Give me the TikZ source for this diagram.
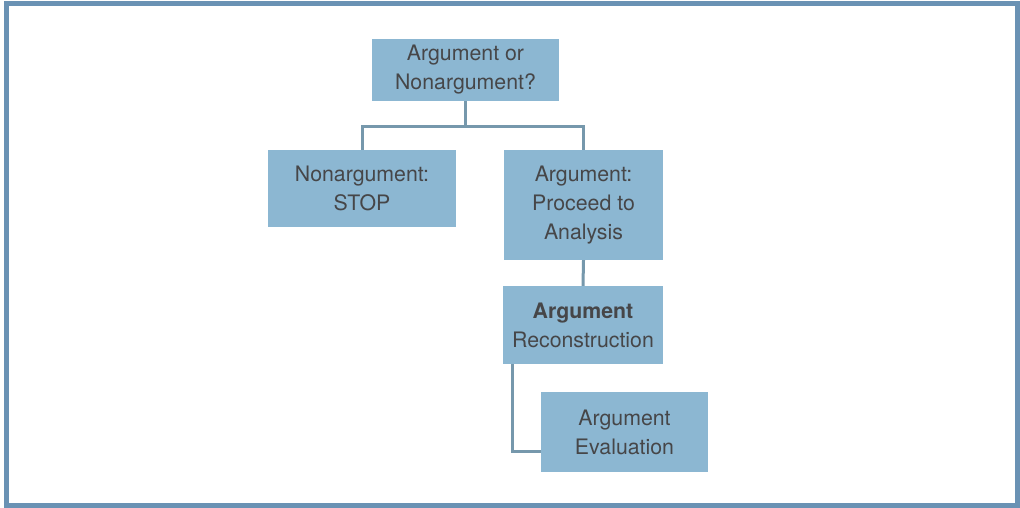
\documentclass[tikz,border=0pt]{standalone}
\usepackage{fontspec}
\setmainfont{TeX Gyre Heros}
\definecolor{boxfill}{RGB}{140,183,210}
\definecolor{boxtext}{RGB}{70,70,72}
\definecolor{linkcol}{RGB}{118,152,172}
\definecolor{framecol}{RGB}{106,146,180}
\begin{document}
\begin{tikzpicture}[x=1pt,y=-1pt,
  stepbox/.style={rectangle, fill=boxfill, text=boxtext, inner sep=0pt,
    align=center, font=\fontsize{21.3}{29}\selectfont},
  link/.style={draw=linkcol, line width=3pt}]
\useasboundingbox (0,0) rectangle (1020,507);
% page frame
\fill[white] (0,0) rectangle (1020,507);
\draw[framecol, line width=5pt] (6.5,3) rectangle (1017.5,505);

% boxes
\node[stepbox, minimum width=187pt, minimum height=62pt] (q) at (465.5,70)
  {Argument or\\Nonargument?};
\node[stepbox, minimum width=188pt, minimum height=77pt] (non) at (362,188.5)
  {Nonargument:\\STOP};
\node[stepbox, minimum width=159pt, minimum height=110pt] (arg) at (583.5,205)
  {Argument:\\Proceed to\\Analysis};
\node[stepbox, minimum width=160pt, minimum height=78pt] (rec) at (583,325)
  {\textbf{Argument}\\Reconstruction};
\node[stepbox, minimum width=167pt, minimum height=80pt] (eval) at (624.5,432)
  {Argument\\Evaluation};

% connectors
\coordinate (j) at (465.5,126);
\draw[link] (q.south) -- (j);
\draw[link] (non.north) -- (non.north |- j) -- (arg.north |- j) -- (arg.north);
\draw[link] (arg.south) -- (rec.north);
\draw[link] ([xshift=10pt]rec.south west) |- ([yshift=-19pt]eval.west);
\end{tikzpicture}
\end{document}
